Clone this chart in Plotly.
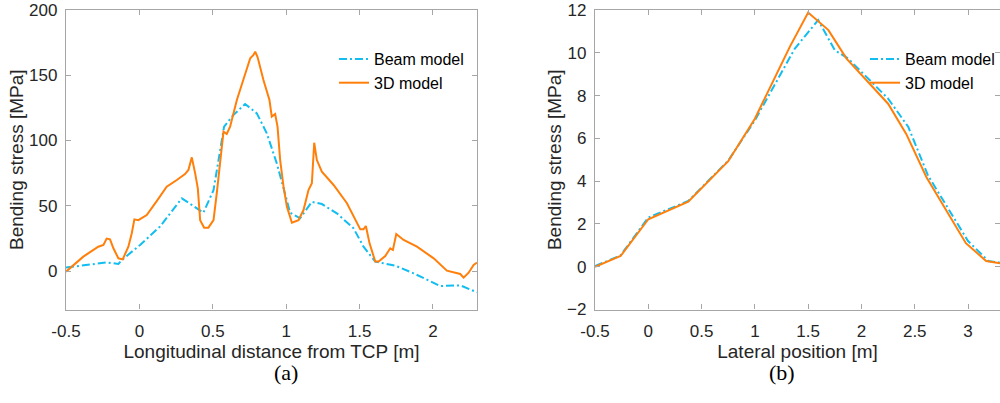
import plotly.graph_objects as go

# ---- Panel (a): longitudinal ----
a_beam_x = [-0.5, -0.223, -0.143, -0.12, 0.005, 0.14, 0.289, 0.436, 0.505, 0.577, 0.64, 0.72, 0.8,
            0.868, 0.936, 1.0, 1.027, 1.095, 1.175, 1.243, 1.345, 1.459, 1.527, 1.607, 1.743, 1.868,
            2.05, 2.186, 2.3]
a_beam_y = [2.6, 6.6, 5.4, 8.4, 20, 34, 55.7, 44.7, 62, 110.6, 119.5, 128, 120.8,
            105.5, 82.5, 54.4, 44.7, 40.4, 53, 51.3, 44.2, 32.7, 18.6, 7.2, 4.1, -1.8,
            -11.5, -11, -16.3]

a_3d_x = [-0.5, -0.382, -0.28, -0.245, -0.223, -0.2, -0.177, -0.143, -0.114, -0.075, -0.052, -0.034,
          -0.007, 0.05, 0.118, 0.186, 0.255, 0.311, 0.334, 0.357, 0.38, 0.398, 0.414, 0.441, 0.47,
          0.505, 0.527, 0.55, 0.573, 0.595, 0.618, 0.664, 0.709, 0.755, 0.777, 0.789, 0.805, 0.845,
          0.886, 0.902, 0.925, 0.941, 0.959, 0.982, 1.005, 1.039, 1.084, 1.118, 1.152, 1.175, 1.191,
          1.209, 1.243, 1.323, 1.414, 1.505, 1.527, 1.543, 1.568, 1.607, 1.63, 1.675, 1.709, 1.727,
          1.75, 1.8, 1.891, 2.005, 2.095, 2.186, 2.209, 2.243, 2.277, 2.3]
a_3d_y = [-0.5, 11, 18.6, 20, 24.8, 24.3, 17.4, 9.7, 8.9, 18.6, 28.9, 39.6,
          39, 42.9, 53.6, 64.6, 69.7, 74.3, 77.4, 87.1, 74.8, 63.3, 39, 33.2, 33.2,
          39, 59.5, 85, 106.8, 105, 110.6, 131, 146.4, 163, 165.5, 168, 164, 146.4,
          131, 118.3, 120.3, 110.6, 85, 64.6, 49.3, 37, 39, 46.7, 62, 67.2, 98.3,
          85, 76.1, 65.9, 51.9, 31.9, 31.9, 34.5, 21.2, 7.2, 7.2, 11.5, 17.4, 16.1,
          28.4, 23.8, 18.6, 9.7, 0.3, -2.3, -5.1, -1.3, 4.6, 6.4]

# ---- Panel (b): lateral ----
b_beam_x = [-0.5, -0.26, 0.0, 0.375, 0.75, 1.0, 1.375, 1.594, 1.75, 1.875, 2.25, 2.44, 2.625, 3.0, 3.19, 3.3]
b_beam_y = [0.03, 0.53, 2.3, 3.07, 4.96, 6.84, 10.2, 11.53, 10.12, 9.73, 7.86, 6.53, 4.26, 1.2, 0.27, 0.19]

b_3d_x = [-0.5, -0.26, 0.0, 0.375, 0.75, 1.0, 1.33, 1.5, 1.69, 1.86, 2.25, 2.42, 2.61, 2.98, 3.17, 3.3]
b_3d_y = [0.0, 0.5, 2.22, 3.04, 4.93, 6.92, 10.3, 11.88, 11.06, 9.73, 7.62, 6.21, 4.18, 1.1, 0.27, 0.16]

series_names = ["Beam model", "3D model"]
a_xticks = [-0.5, 0, 0.5, 1, 1.5, 2]
a_xtick_text = ["-0.5", "0", "0.5", "1", "1.5", "2"]
a_yticks = [0, 50, 100, 150, 200]
b_xticks = [-0.5, 0, 0.5, 1, 1.5, 2, 2.5, 3]
b_xtick_text = ["-0.5", "0", "0.5", "1", "1.5", "2", "2.5", "3"]
b_yticks = [-2, 0, 2, 4, 6, 8, 10, 12]

BLUE = "#12BDF0"
ORANGE = "#FF7F0A"
FONT = "Arial, Liberation Sans, sans-serif"
TXT = "#262626"
AXC = "#A6A6A6"

fig = go.Figure()
fig.add_trace(go.Scatter(x=a_beam_x, y=a_beam_y, mode="lines", name=series_names[0],
                         line=dict(color=BLUE, width=2, dash="8px,3px,2px,3px"),
                         xaxis="x", yaxis="y", legend="legend"))
fig.add_trace(go.Scatter(x=a_3d_x, y=a_3d_y, mode="lines", name=series_names[1],
                         line=dict(color=ORANGE, width=2),
                         xaxis="x", yaxis="y", legend="legend"))
fig.add_trace(go.Scatter(x=b_beam_x, y=b_beam_y, mode="lines", name=series_names[0],
                         line=dict(color=BLUE, width=2, dash="8px,3px,2px,3px"),
                         xaxis="x2", yaxis="y2", legend="legend2"))
fig.add_trace(go.Scatter(x=b_3d_x, y=b_3d_y, mode="lines", name=series_names[1],
                         line=dict(color=ORANGE, width=2),
                         xaxis="x2", yaxis="y2", legend="legend2"))

ax_common = dict(showline=True, linecolor=AXC, linewidth=1.3, mirror="ticks",
                 ticks="inside", ticklen=5, tickcolor=AXC, tickwidth=1,
                 showgrid=False, zeroline=False, automargin=False,
                 tickfont=dict(family=FONT, size=17, color=TXT),
                 title_font=dict(family=FONT, size=19, color=TXT))

ydom = [1 - 309.5 / 403, 1 - 10 / 403]
fig.update_layout(
    width=1000, height=403,
    margin=dict(l=0, r=0, t=0, b=0, autoexpand=False),
    paper_bgcolor="white", plot_bgcolor="white",
    showlegend=True,
    xaxis=dict(domain=[0.066, 0.477], range=[-0.5, 2.3], tickvals=a_xticks, ticktext=a_xtick_text,
               title=dict(text="Longitudinal distance from TCP [m]", standoff=4), anchor="y",
               ticklabelstandoff=6, **ax_common),
    yaxis=dict(domain=ydom, range=[-29.5, 200], tickvals=a_yticks,
               title=dict(text="Bending stress [MPa]", standoff=0), anchor="x",
               ticklabelstandoff=4, **ax_common),
    xaxis2=dict(domain=[0.595, 1.0], range=[-0.5, 3.3], tickvals=b_xticks, ticktext=b_xtick_text,
                title=dict(text="Lateral position [m]", standoff=4), anchor="y2",
                ticklabelstandoff=6, **ax_common),
    yaxis2=dict(domain=ydom, range=[-2, 12], tickvals=b_yticks,
                title=dict(text="Bending stress [MPa]", standoff=0), anchor="x2",
                ticklabelstandoff=4, **ax_common),
    legend=dict(x=0.334, y=1 - 42 / 403, xanchor="left", yanchor="top",
                bgcolor="rgba(0,0,0,0)", borderwidth=0,
                font=dict(family=FONT, size=16, color="black"), itemwidth=30,
                tracegroupgap=0),
    legend2=dict(x=0.865, y=1 - 42 / 403, xanchor="left", yanchor="top",
                 bgcolor="rgba(0,0,0,0)", borderwidth=0,
                 font=dict(family=FONT, size=16, color="black"), itemwidth=30,
                 tracegroupgap=0),
    annotations=[
        dict(text="(a)", x=0.2715, y=1 - 387 / 403, xref="paper", yref="paper",
             showarrow=False, font=dict(family="Liberation Serif, Times New Roman, serif", size=22, color="black")),
        dict(text="(b)", x=0.797, y=1 - 387 / 403, xref="paper", yref="paper",
             showarrow=False, font=dict(family="Liberation Serif, Times New Roman, serif", size=22, color="black")),
    ],
)

fig.write_html("out.html", config={"displayModeBar": False},
               post_script="document.body.style.margin='0';document.body.style.overflow='hidden';")
